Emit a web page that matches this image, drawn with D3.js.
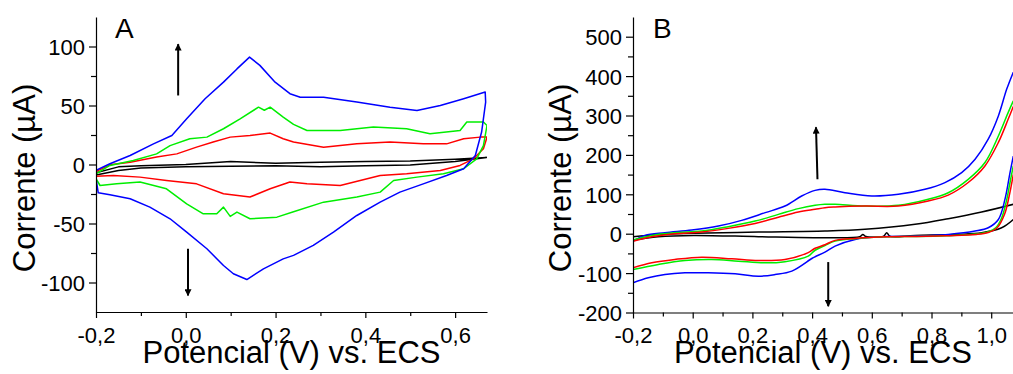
<!DOCTYPE html>
<html>
<head>
<meta charset="utf-8">
<script src="https://cdn.jsdelivr.net/npm/d3@7"></script>
<style>
  body { margin: 0; background: #fff; }
  svg { display: block; font-family: "Liberation Sans", Arial, sans-serif; }
</style>
</head>
<body>
<script>
// ---- panel A: voltammograms, [potential V, current uA], one closed loop each
const aBlue = [[-0.2,-5],[-0.169,0.6],[-0.124,7.6],[-0.072,17.5],[-0.031,24.6],[0.002,38.7],[0.043,55.7],[0.084,69.8],[0.114,81],[0.142,91],[0.165,84],[0.199,69.8],[0.232,60],[0.255,57],[0.307,57],[0.381,52.9],[0.455,48.6],[0.515,45.8],[0.567,50],[0.619,55.7],[0.667,61.4],
  [0.668,52.9],[0.659,27.5],[0.645,7.6],[0.619,-3.6],[0.581,-9.3],[0.529,-16.4],[0.477,-23.4],[0.433,-31.9],[0.381,-43.2],[0.329,-57.3],[0.284,-68.6],[0.24,-77],[0.217,-80],[0.173,-88.4],[0.136,-97.5],[0.106,-92.6],[0.084,-85.6],[0.047,-71.4],[0.002,-57.3],[-0.035,-46],[-0.08,-36.1],[-0.124,-29],[-0.169,-25.7],[-0.195,-24],[-0.2,-12],[-0.2,-5]];
const aGreen = [[-0.2,-8],[-0.169,-0.8],[-0.117,3.4],[-0.065,9],[-0.035,16],[0.009,21.8],[0.047,23.2],[0.084,30.3],[0.121,38.7],[0.162,48.6],[0.175,46],[0.188,48.6],[0.217,40.2],[0.24,34],[0.27,28.8],[0.344,28.8],[0.418,31.7],[0.492,30.3],[0.544,26],[0.611,28.8],[0.626,36],[0.663,36],[0.671,33],
  [0.663,16],[0.648,4.8],[0.619,-3.6],[0.574,-7.9],[0.515,-10.7],[0.463,-13.6],[0.433,-23.4],[0.381,-27.6],[0.307,-31.9],[0.24,-40],[0.203,-44.6],[0.143,-46],[0.114,-40.3],[0.099,-44],[0.084,-36.1],[0.069,-41.8],[0.039,-41.8],[0.002,-33.3],[-0.043,-20.6],[-0.102,-14.9],[-0.154,-16.4],[-0.191,-17.8],[-0.2,-12],[-0.2,-8]];
const aRed = [[-0.2,-6],[-0.169,-0.3],[-0.124,2],[-0.065,6.3],[-0.02,9],[0.024,14.7],[0.061,19],[0.099,23.2],[0.143,24.6],[0.188,26.6],[0.217,21.8],[0.24,19],[0.307,14.7],[0.381,17.5],[0.455,19],[0.529,17.5],[0.581,17.5],[0.619,21.8],[0.656,23.2],[0.671,23.2],
  [0.663,13.3],[0.641,4.8],[0.611,-0.8],[0.567,-5],[0.492,-7.9],[0.433,-9.3],[0.344,-17.8],[0.27,-16.4],[0.232,-14.9],[0.188,-20.6],[0.143,-27.6],[0.084,-24.8],[0.024,-16.4],[-0.043,-13.6],[-0.102,-10.7],[-0.161,-9.3],[-0.2,-10],[-0.2,-6]];
const aBlack = [[-0.2,-7],[-0.15,-2],[-0.1,-1],[0,0],[0.1,2.5],[0.2,1],[0.3,2],[0.4,2.5],[0.5,3],[0.6,4.5],[0.67,6],
  [0.6,2.5],[0.5,-0.5],[0.4,-1],[0.3,-2],[0.2,-1],[0.1,-1.5],[0,-2],[-0.1,-3],[-0.15,-5],[-0.2,-9],[-0.2,-7]];

// ---- panel B: forward and reverse sweeps
const bBlueFwd = [[-0.2,-18.8],[-0.16,-4.3],[-0.093,2.5],[-0.003,9.2],[0.086,19.3],[0.164,33.8],[0.243,53.4],[0.309,70.2],[0.365,95.7],[0.41,110],[0.443,112.7],[0.51,104],[0.6,95.7],[0.689,100],[0.778,112.7],[0.845,129.8],[0.901,155],[0.946,189],[0.99,240],[1.024,299],[1.052,367],[1.074,410]];
const bBlueRev = [[1.074,197],[1.063,155],[1.046,87],[1.024,36],[0.99,15],[0.946,6.6],[0.856,-1.8],[0.745,-6],[0.633,-7.6],[0.544,-14.5],[0.477,-31.5],[0.443,-46.8],[0.41,-58.5],[0.399,-63],[0.332,-95],[0.276,-103.6],[0.22,-107.8],[0.142,-101.9],[0.052,-99.3],[-0.026,-99.3],[-0.093,-103.6],[-0.149,-112],[-0.2,-124.7]];
const bGreenFwd = [[-0.2,-16],[-0.137,-4.3],[-0.06,2.5],[0.03,6.6],[0.119,17.8],[0.209,32],[0.287,49],[0.354,63.6],[0.41,72],[0.443,74.6],[0.477,74.6],[0.577,70.2],[0.689,72],[0.789,87.3],[0.856,104],[0.923,138],[0.979,180.7],[1.024,248],[1.057,308],[1.074,337]];
const bGreenRev = [[1.074,172],[1.063,130],[1.05,80],[1.035,40],[1.015,15],[0.99,5],[0.95,-1],[0.85,-5],[0.75,-7],[0.65,-8],[0.544,-12.7],[0.477,-18.8],[0.443,-30],[0.41,-42],[0.387,-57],[0.309,-71],[0.243,-74],[0.153,-69.7],[0.064,-65.4],[-0.026,-68],[-0.115,-78],[-0.2,-91]];
const bRedFwd = [[-0.2,-19],[-0.137,-7.6],[-0.06,0],[0.03,4.2],[0.119,13.5],[0.209,26],[0.287,42],[0.354,55],[0.41,62],[0.443,66],[0.477,67.7],[0.577,70],[0.689,70.2],[0.789,83],[0.856,98],[0.923,130],[0.979,172],[1.024,231.6],[1.057,291],[1.074,323]];
const bRedRev = [[1.074,150],[1.06,95],[1.045,50],[1.02,15],[0.99,3],[0.95,-2],[0.85,-5],[0.75,-7],[0.65,-8],[0.544,-12],[0.477,-17],[0.443,-28],[0.41,-37],[0.387,-48],[0.309,-65.4],[0.22,-68],[0.131,-63.6],[0.03,-59.5],[-0.06,-65.4],[-0.137,-73.8],[-0.2,-86.5]];
const bBlackFwd = [[-0.2,-8],[-0.116,-2],[0.003,1],[0.22,4],[0.443,6.6],[0.577,11],[0.745,23.7],[0.856,38],[0.968,55],[1.074,74.6]];
const bBlackRev = [[1.074,36],[1.035,15],[0.968,2.5],[0.745,-4.3],[0.66,-6],[0.65,2.5],[0.64,-6],[0.58,-7],[0.57,-2],[0.56,-7.6],[0.41,-10],[0.22,-7.6],[0.003,-4.3],[-0.116,-7.6],[-0.2,-16]];

// arrows: [xFrom, yFrom, xTo, yTo] in data units
const aArrows = [[-0.017,58.5,-0.017,102],[0.005,-71.4,0.005,-111]];
const bArrows = [[0.418,138,0.413,270],[0.454,-72,0.454,-184]];

// axis ticks
const aXMajor = [-0.2,0,0.2,0.4,0.6], aXMinor = [-0.1,0.1,0.3,0.5];
const aYMajor = [-100,-50,0,50,100], aYMinor = [-75,-25,25,75];
const bXMajor = [-0.2,0,0.2,0.4,0.6,0.8,1.0], bXMinor = [-0.1,0.1,0.3,0.5,0.7,0.9];
const bYMajor = [-200,-100,0,100,200,300,400,500], bYMinor = [-150,-50,50,150,250,350,450];

const W = 1013, H = 374;
let svg = d3.select("body").append("svg").attr("width", W).attr("height", H);

let fmtX = v => v.toFixed(1).replace(".", ",");
let fmtY = v => String(v);

function drawPanel(p) {
  let x = d3.scaleLinear().domain(p.xDomain).range([p.left, p.right]);
  let y = d3.scaleLinear().domain(p.yDomain).range([p.bottom, p.top]);

  svg.append("clipPath").attr("id", p.id + "clip")
    .append("rect")
    .attr("x", p.left).attr("y", p.top)
    .attr("width", p.right - p.left).attr("height", p.bottom - p.top);

  let line = d3.line().x(d => x(d[0])).y(d => y(d[1])).curve(p.curve);

  let g = svg.append("g").attr("clip-path", "url(#" + p.id + "clip)");
  p.series.forEach(s => {
    g.append("path")
      .attr("d", line(s.data))
      .attr("fill", "none")
      .attr("stroke", s.color)
      .attr("stroke-width", 1.5)
      .attr("stroke-linejoin", "round");
  });

  // axes
  let xa = svg.append("g").attr("transform", "translate(0," + p.bottom + ")")
    .call(d3.axisBottom(x).tickValues(p.xMajor).tickFormat(fmtX).tickSizeInner(6).tickSizeOuter(0));
  xa.selectAll(".tick text").attr("y", 343 - p.bottom).attr("dy", null);
  svg.append("g").attr("transform", "translate(0," + p.bottom + ")")
    .call(d3.axisBottom(x).tickValues(p.xMinor).tickFormat("").tickSizeInner(4).tickSizeOuter(0))
    .select(".domain").remove();
  let ya = svg.append("g").attr("transform", "translate(" + p.left + ",0)")
    .call(d3.axisLeft(y).tickValues(p.yMajor).tickFormat(fmtY).tickSizeInner(7).tickSizeOuter(0).tickPadding(4));
  ya.selectAll(".tick text").attr("dy", "0.36em");
  svg.append("g").attr("transform", "translate(" + p.left + ",0)")
    .call(d3.axisLeft(y).tickValues(p.yMinor).tickFormat("").tickSizeInner(5).tickSizeOuter(0))
    .select(".domain").remove();

  [xa, ya].forEach(a => {
    a.attr("font-size", null).attr("font-family", null);
    a.selectAll(".tick text")
      .style("font-family", "'Liberation Sans', Arial, sans-serif")
      .style("font-size", "22px")
      .attr("fill", "#000");
  });
  svg.selectAll(".domain, .tick line").attr("stroke", "#000").attr("stroke-width", 1.2);

  // titles
  svg.append("text")
    .attr("x", (p.left + p.right) / 2).attr("y", 363)
    .attr("text-anchor", "middle")
    .style("font-size", "31px")
    .text("Potencial (V) vs. ECS");
  svg.append("text")
    .attr("transform", "translate(" + p.yTitleX + ",178) rotate(-90)")
    .attr("text-anchor", "middle")
    .style("font-size", "31px")
    .text("Corrente (\u00b5A)");
  svg.append("text")
    .attr("x", p.labelX).attr("y", 38)
    .style("font-size", "28px")
    .text(p.label);

  // arrows
  p.arrows.forEach(a => {
    svg.append("line")
      .attr("x1", x(a[0])).attr("y1", y(a[1]))
      .attr("x2", x(a[2])).attr("y2", y(a[3]))
      .attr("stroke", "#000").attr("stroke-width", 2)
      .attr("marker-end", "url(#head)");
  });
}

svg.append("defs").append("marker")
  .attr("id", "head")
  .attr("viewBox", "0 0 10 10")
  .attr("refX", 9).attr("refY", 5)
  .attr("markerWidth", 5).attr("markerHeight", 3.5)
  .attr("markerUnits", "strokeWidth")
  .attr("orient", "auto")
  .append("path").attr("d", "M0,0L10,5L0,10Z").attr("fill", "#000");

drawPanel({
  id: "a", label: "A", labelX: 115, yTitleX: 35,
  left: 96, right: 487, top: 17, bottom: 312,
  xDomain: [-0.2, 0.671], yDomain: [-125, 125],
  xMajor: aXMajor, xMinor: aXMinor, yMajor: aYMajor, yMinor: aYMinor,
  curve: d3.curveLinear,
  series: [
    { data: aBlack, color: "#000" },
    { data: aRed, color: "#ff0000" },
    { data: aGreen, color: "#00ee00" },
    { data: aBlue, color: "#0000ff" }
  ],
  arrows: aArrows
});

drawPanel({
  id: "b", label: "B", labelX: 653, yTitleX: 571,
  left: 633, right: 1013, top: 17, bottom: 312.5,
  xDomain: [-0.2, 1.073], yDomain: [-200, 550],
  xMajor: bXMajor, xMinor: bXMinor, yMajor: bYMajor, yMinor: bYMinor,
  curve: d3.curveCatmullRom.alpha(0.5),
  series: [
    { data: bBlackFwd, color: "#000" },
    { data: bBlackRev, color: "#000" },
    { data: bBlueFwd, color: "#0000ff" },
    { data: bBlueRev, color: "#0000ff" },
    { data: bGreenFwd, color: "#00ee00" },
    { data: bGreenRev, color: "#00ee00" },
    { data: bRedFwd, color: "#ff0000" },
    { data: bRedRev, color: "#ff0000" }
  ],
  arrows: bArrows
});
</script>
</body>
</html>
